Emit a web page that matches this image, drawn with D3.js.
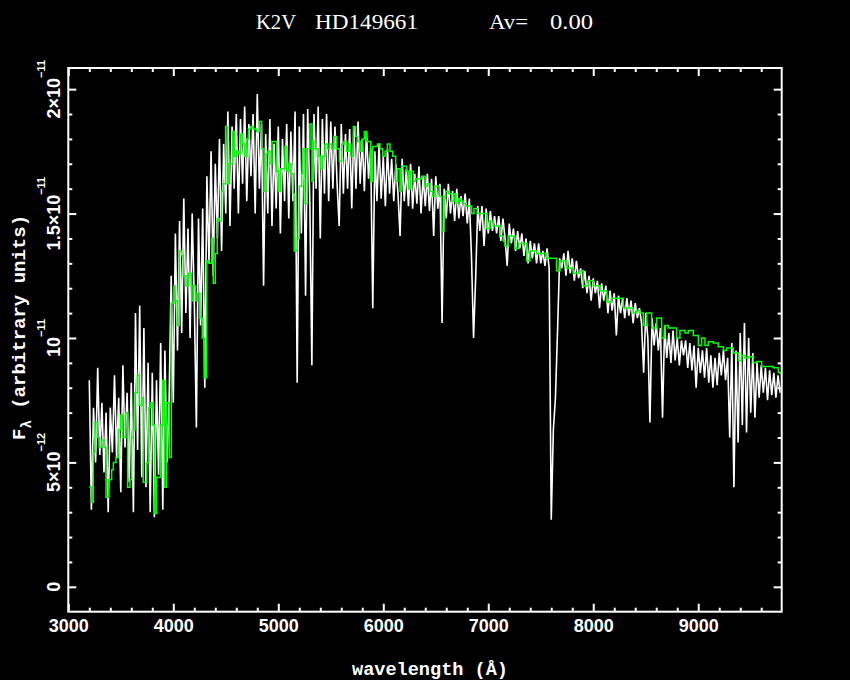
<!DOCTYPE html>
<html><head><meta charset="utf-8">
<script src="https://cdn.jsdelivr.net/npm/d3@7"></script>
<style>html,body{margin:0;padding:0;background:#000;}svg{display:block}</style>
</head><body>
<script>
// ---------- data (flux in units of 1e-12) ----------
const titleParts = ["K2V", "HD149661", "Av=", "0.00"];
const xLabel = "wavelength (Å)";
const yLabelMain = "F";
const yLabelSub = "λ";
const yLabelRest = " (arbitrary units)";

const xTicks = [3000, 4000, 5000, 6000, 7000, 8000, 9000];
const yTicks = [0, 5, 10, 15, 20];
const yTickMant = ["0", "5×10", "10", "1.5×10", "2×10"];
const yTickExp = ["", "−12", "−11", "−11", "−11"];

// observed spectrum, sampled every 20 Å starting at 3200 Å (one row = 200 Å)
const whiteStart = 3200, whiteStep = 20;
const whiteFlux = [
 8.3,3.1,7.2,5.0,8.8,5.3,7.4,4.6,7.0,3.0,
 7.2,5.4,8.5,5.2,7.6,3.8,8.9,5.6,7.8,4.2,
 8.2,3.0,11.0,5.5,11.3,4.4,10.4,4.0,9.0,3.0,
 8.6,2.8,8.3,4.5,9.8,3.1,9.5,5.0,7.5,12.5,
 7.4,14.2,9.5,14.7,10.2,15.6,11.0,14.4,10.0,15.0,
 11.5,6.4,14.8,10.5,15.2,8.0,16.5,13.0,17.5,12.5,
 17.0,14.0,18.0,13.5,17.8,15.0,19.1,14.5,18.5,16.0,
 19.0,15.0,18.8,16.2,19.3,15.5,18.6,16.5,19.0,15.0,
 19.8,16.0,18.6,12.1,18.2,15.0,18.8,14.5,17.8,15.2,
 18.5,14.2,18.0,15.5,18.6,14.8,18.3,15.5,19.1,8.2,
 18.5,14.2,19.0,11.7,19.2,15.6,8.9,19.0,16.0,19.3,
 14.0,18.8,15.8,19.0,15.5,18.7,16.0,18.5,16.2,14.5,
 18.6,15.8,18.2,16.0,18.4,15.2,18.5,16.0,18.7,16.2,
 18.0,15.9,18.3,16.4,17.6,11.2,17.5,15.5,17.8,15.6,
 17.3,15.3,17.6,15.8,17.2,15.5,17.0,15.8,14.1,17.2,
 15.5,16.8,15.3,17.0,15.2,16.6,15.4,16.9,15.0,16.5,
 15.3,16.6,15.1,16.4,14.1,16.5,15.2,16.2,10.6,16.0,
 14.8,16.2,15.0,15.9,14.7,16.0,14.8,15.7,14.9,15.8,
 14.6,15.6,13.3,10.0,12.4,15.3,14.3,15.3,13.7,15.2,
 14.2,15.1,14.3,14.9,14.2,14.9,13.9,14.8,14.0,12.9,
 14.6,13.8,14.4,13.5,14.3,13.6,14.2,13.3,14.0,13.0,
 13.9,13.2,13.8,13.0,13.8,13.0,13.5,12.9,13.6,12.8,
 2.7,6.3,7.6,10.3,13.2,12.8,13.4,12.5,13.5,12.6,
 13.2,12.3,13.1,12.4,12.8,12.0,12.7,11.8,12.5,11.5,
 12.4,11.8,12.3,11.2,12.2,11.5,12.1,11.0,11.9,11.1,
 11.8,10.1,11.7,11.0,11.6,10.8,11.6,10.9,11.5,10.6,
 11.4,10.8,11.2,10.6,8.6,11.0,10.0,6.6,10.8,9.7,
 10.6,9.5,10.4,6.8,10.5,9.2,10.2,9.0,10.3,9.1,
 10.0,8.9,9.9,9.3,9.9,8.8,9.8,8.7,9.7,8.0,
 9.6,8.6,9.5,8.4,9.6,8.2,9.3,8.0,9.2,8.1,
 9.4,8.5,9.5,8.3,9.2,6.0,9.8,4.0,9.5,5.8,
 10.2,6.5,10.6,6.2,10.0,7.0,9.4,6.8,9.0,7.6,
 8.9,7.8,8.8,7.5,8.7,7.7,8.6,7.6,8.5,7.8
];

// model spectrum (step function): bin start wavelength and flux
const greenWave = [3200,3222,3238,3254,3276,3295,3314,3340,3359,3381,3413,3429,3454,3476,3498,3517,3546,3565,3587,3603,3619,3635,3657,3676,3698,3714,3746,3768,3787,3803,3822,3841,3879,3898,3917,3936,3962,3981,4006,4016,4038,4057,4079,4095,4121,4143,4175,4191,4213,4229,4254,4276,4295,4318,4340,4365,4381,4400,4419,4438,4460,4476,4498,4518,4533,4565,4584,4603,4622,4641,4660,4679,4698,4718,4737,4762,4794,4819,4841,4864,4883,4902,4921,4940,4984,5003,5022,5064,5083,5102,5121,5143,5152,5181,5200,5223,5232,5255,5277,5302,5321,5334,5353,5382,5404,5423,5445,5467,5486,5509,5531,5556,5582,5604,5626,5651,5671,5690,5715,5737,5756,5779,5801,5820,5842,5880,5899,5944,5969,5994,6017,6039,6064,6090,6118,6137,6160,6175,6223,6242,6261,6287,6309,6366,6398,6420,6445,6471,6493,6534,6556,6579,6594,6620,6652,6674,6693,6718,6737,6763,6785,6842,6864,6896,6921,6985,7016,7048,7111,7143,7159,7191,7254,7286,7366,7397,7461,7556,7651,7683,7746,7810,7873,7905,7953,8000,8064,8128,8175,8286,8382,8413,8445,8477,8508,8556,8604,8651,8683,8715,8794,8826,8874,8905,8953,9001,9032,9064,9096,9143,9191,9239,9270,9334,9382,9413,9445,9477,9525,9556,9604,9715,9763,9795];
const greenFlux = [4.0,3.4,5.4,6.6,6.0,5.6,5.9,5.6,3.6,4.3,4.7,5.0,5.2,6.3,6.9,6.0,7.0,4.0,4.3,6.0,6.3,7.8,8.5,7.3,7.6,4.2,5.0,7.2,7.4,6.5,2.95,4.4,6.5,8.3,4.0,7.4,5.2,11.4,12.1,11.5,10.5,13.5,13.3,12.5,12.1,12.6,11.5,12.1,11.5,11.8,10.8,10.0,8.4,13.1,13.0,14.0,12.2,13.4,14.8,14.7,15.9,16.2,18.5,16.2,17.0,18.3,17.3,17.5,17.4,18.2,17.8,17.3,18.0,18.4,18.5,18.4,18.3,18.7,17.6,15.9,17.4,17.5,17.0,17.9,16.7,15.9,16.8,17.7,16.7,17.0,16.6,15.8,13.5,14.0,16.1,16.6,17.6,15.4,17.6,18.6,16.3,17.9,17.6,17.3,16.8,17.3,17.8,17.6,17.8,17.6,18.1,17.6,17.1,17.8,17.9,17.5,17.8,17.3,18.5,18.1,17.9,17.5,18.0,18.3,17.9,16.3,17.7,17.8,17.6,17.3,17.5,17.8,17.5,17.3,16.3,16.8,15.9,16.9,16.7,16.0,16.7,16.3,16.4,16.5,16.1,16.2,15.9,15.7,16.1,15.7,14.3,15.7,15.9,15.8,15.5,15.8,15.4,15.6,15.5,15.4,15.3,15.0,15.2,15.0,15.0,14.4,14.7,14.5,14.1,13.9,13.7,14.1,13.6,13.8,13.1,13.5,13.4,13.2,12.7,13.1,12.8,12.6,12.7,12.1,12.3,12.1,11.9,11.45,11.6,11.2,11.0,11.1,11.0,10.5,11.0,10.4,10.8,10.0,10.5,10.4,10.0,10.3,10.2,10.3,10.1,9.7,10.0,9.7,9.85,9.8,9.65,9.5,9.6,9.4,9.1,9.3,9.2,9.25,9.0,9.05,8.85,8.8,8.6,8.6];

// ---------- drawing ----------
const W = 850, H = 680;
const m = {left: 68.3, right: 781.7, top: 68, bottom: 611.7};
const x = d3.scaleLinear().domain([3000, 9795]).range([m.left, m.right]);
const y = d3.scaleLinear().domain([-1, 20.85]).range([m.bottom, m.top]);

const svg = d3.select("body").append("svg").attr("width", W).attr("height", H);
svg.append("rect").attr("width", W).attr("height", H).attr("fill", "#000");

svg.append("clipPath").attr("id", "clip").append("rect")
  .attr("x", m.left).attr("y", m.top).attr("width", m.right - m.left).attr("height", m.bottom - m.top);

const whiteData = whiteFlux.map((v, i) => [whiteStart + i * whiteStep, v]);
const greenData = greenWave.map((w, i) => [w, greenFlux[i]]);

const plot = svg.append("g").attr("clip-path", "url(#clip)");
plot.append("path").datum(whiteData)
  .attr("d", d3.line().x(d => x(d[0])).y(d => y(d[1])))
  .attr("fill", "none").attr("stroke", "#fff").attr("stroke-width", 1.6)
  .attr("stroke-linejoin", "miter").attr("stroke-miterlimit", 2);
plot.append("path").datum(greenData)
  .attr("d", d3.line().curve(d3.curveStepAfter).x(d => x(d[0])).y(d => y(d[1])))
  .attr("fill", "none").attr("stroke", "#00ff00").attr("stroke-width", 1.5);

// axes
const xMinor = d3.range(3000, 9795, 200).filter(v => v % 1000 !== 0);
const yMinor = d3.range(0, 21, 1).filter(v => v % 5 !== 0);

function styleAxis(g) {
  g.select(".domain").remove();
  g.selectAll(".tick line").attr("stroke", "#fff").attr("stroke-width", 2);
  g.selectAll(".tick text").attr("fill", "#fff")
    .attr("font-family", "'Liberation Sans', Arial, sans-serif")
    .attr("font-weight", "bold").attr("font-size", 18);
}
const none = () => "";

svg.append("g").attr("transform", `translate(0,${m.bottom})`)
  .call(d3.axisBottom(x).tickValues(xTicks).tickSize(-8).tickPadding(8).tickFormat(d3.format("d"))).call(styleAxis);
svg.append("g").attr("transform", `translate(0,${m.bottom})`)
  .call(d3.axisBottom(x).tickValues(xMinor).tickSize(-4).tickFormat(none)).call(styleAxis);
svg.append("g").attr("transform", `translate(0,${m.top})`)
  .call(d3.axisTop(x).tickValues(xTicks).tickSize(-8).tickFormat(none)).call(styleAxis);
svg.append("g").attr("transform", `translate(0,${m.top})`)
  .call(d3.axisTop(x).tickValues(xMinor).tickSize(-4).tickFormat(none)).call(styleAxis);
svg.append("g").attr("transform", `translate(${m.left},0)`)
  .call(d3.axisLeft(y).tickValues(yTicks).tickSize(-8).tickFormat(none)).call(styleAxis);
svg.append("g").attr("transform", `translate(${m.left},0)`)
  .call(d3.axisLeft(y).tickValues(yMinor).tickSize(-4).tickFormat(none)).call(styleAxis);
svg.append("g").attr("transform", `translate(${m.right},0)`)
  .call(d3.axisRight(y).tickValues(yTicks).tickSize(-8).tickFormat(none)).call(styleAxis);
svg.append("g").attr("transform", `translate(${m.right},0)`)
  .call(d3.axisRight(y).tickValues(yMinor).tickSize(-4).tickFormat(none)).call(styleAxis);

svg.append("rect").attr("x", m.left).attr("y", m.top)
  .attr("width", m.right - m.left).attr("height", m.bottom - m.top)
  .attr("fill", "none").attr("stroke", "#fff").attr("stroke-width", 2);

// y tick labels (rotated, with superscript exponent)
yTicks.forEach((v, i) => {
  const t = svg.append("text")
    .attr("transform", `translate(60,${y(v)}) rotate(-90)`)
    .attr("text-anchor", "middle").attr("fill", "#fff")
    .attr("font-family", "'Liberation Sans', Arial, sans-serif")
    .attr("font-weight", "bold").attr("font-size", 18);
  t.append("tspan").text(yTickMant[i]);
  if (yTickExp[i]) t.append("tspan").attr("dy", -15).attr("font-size", 11).text(yTickExp[i]);
});

// title
const titleX = [256, 315, 489, 550];
const titleLen = [40, 103, 39, 43];
titleParts.forEach((s, i) => {
  svg.append("text").attr("x", titleX[i]).attr("y", 29)
    .attr("fill", "#fff").attr("font-family", "'Liberation Serif', 'Times New Roman', serif")
    .attr("font-size", 21).attr("textLength", titleLen[i]).attr("lengthAdjust", "spacingAndGlyphs")
    .text(s);
});

// x label
svg.append("text").attr("x", 352).attr("y", 675)
  .attr("fill", "#fff").attr("font-family", "'Liberation Mono', 'Courier New', monospace")
  .attr("font-weight", "bold").attr("font-size", 18)
  .attr("textLength", 156).attr("lengthAdjust", "spacingAndGlyphs")
  .text(xLabel);

// y label
const yl = svg.append("text")
  .attr("transform", "translate(25,440) rotate(-90)")
  .attr("fill", "#fff").attr("font-family", "'Liberation Mono', 'Courier New', monospace")
  .attr("font-weight", "bold").attr("font-size", 19);
yl.append("tspan").text(yLabelMain);
yl.append("tspan").attr("dy", 6).attr("font-size", 14).text(yLabelSub);
yl.append("tspan").attr("dy", -6).text(yLabelRest);
</script>
</body></html>
